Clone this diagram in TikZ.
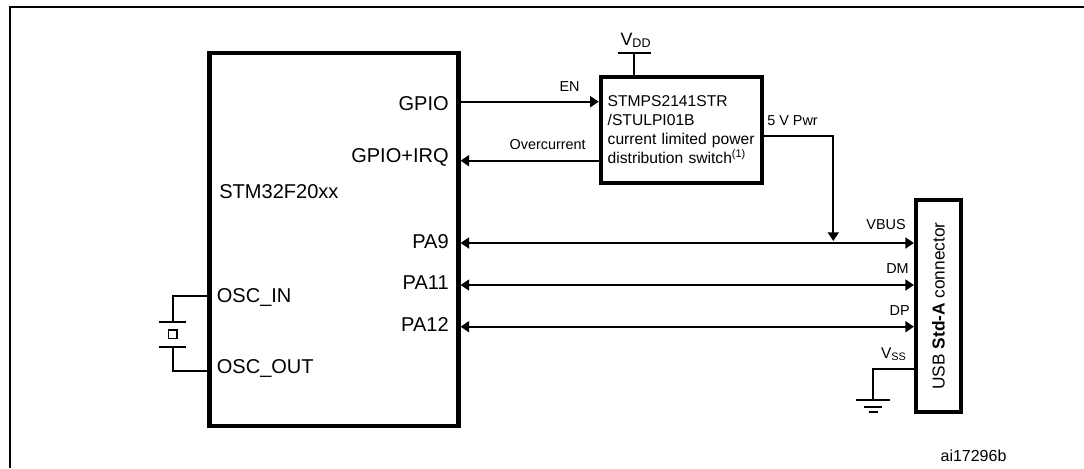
\documentclass[tikz,border=0pt]{standalone}
\usepackage{amsmath}
\usepackage{fontspec}
\setmainfont{Liberation Sans}
\usetikzlibrary{arrows.meta}
\newcommand{\bigfs}{\fontsize{11.4}{13}\selectfont}
\newcommand{\midfs}{\fontsize{8.9}{10.8}\selectfont}
\newcommand{\smallfs}{\fontsize{8.2}{10}\selectfont}

\begin{document}
\begin{tikzpicture}[
      x=0.02cm, y=-0.02cm,
      frameline/.style={line width=1.15pt},
      box/.style={draw, line width=2.5pt, outer sep=0pt, inner sep=0pt},
      wire/.style={line width=1pt},
      arrow/.style={-{Triangle[length=4.8pt,width=6.2pt]}, wire, shorten >=1.2pt},
      bothways/.style={{Triangle[length=4.8pt,width=6.2pt]}-{Triangle[length=4.8pt,width=6.2pt]}, wire, shorten >=1.2pt, shorten <=1.2pt},
      pin/.style={inner sep=0pt, font=\bigfs},
      sig/.style={inner sep=0pt, font=\smallfs}
    ]
      \useasboundingbox (0,0) rectangle (1084,468);
      \draw[frameline] (1084,7) -- (10,7) -- (10,468);

      % blocks
      \node[box, minimum width=4.98cm, minimum height=7.46cm] (mcu) at (334,239.5) {};
      \node[box, minimum width=3.23cm, minimum height=2.12cm, text width=84pt, align=left, font=\midfs] (pwrswitch) at (681.5,130)
        {STMPS2141STR\\/STULPI01B\\current limited power\\distribution switch$^{\text{(1)}}$};
      \node[box, minimum width=0.9cm, minimum height=4.24cm, font=\fontsize{9.85}{12}\selectfont] (usb) at (938.5,306)
        {\rotatebox{90}{USB \textbf{Std-A} connector}};

      % pins of the MCU
      \node[pin, anchor=base west] (partname) at (219,198) {STM32F20xx};
      \node[pin, anchor=base east] (gpio) at (449,110) {GPIO};
      \node[pin, anchor=base east] (gpioirq) at (449,162) {GPIO+IRQ};
      \node[pin, anchor=base east] (pa9) at (449,248) {PA9};
      \node[pin, anchor=base east] (pa11) at (449,289) {PA11};
      \node[pin, anchor=base east] (pa12) at (449,331) {PA12};
      \node[pin, anchor=base west] (oscin) at (216.5,302) {OSC\_IN};
      \node[pin, anchor=base west] (oscout) at (216.5,373) {OSC\_OUT};

      % signal names
      \node[sig, anchor=base] (en) at (569.5,91) {EN};
      \node[sig, anchor=base east] (ovc) at (586,149) {Overcurrent};
      \node[sig, anchor=base west] (pwr) at (767,125) {5 V Pwr};
      \node[sig, anchor=base east] (vbus) at (906,229) {VBUS};
      \node[sig, anchor=base east] (dm) at (909,273) {DM};
      \node[sig, anchor=base east] (dp) at (910,315) {DP};
      \node[pin, anchor=base east, font=\fontsize{8.8}{10}\selectfont] (vss) at (907,358) {V$_{\text{SS}}$};
      \node[pin, anchor=base, font=\fontsize{10.2}{12}\selectfont] (vdd) at (636,45) {V$_{\text{DD}}$};
      \node[sig, anchor=base, font=\fontsize{9.1}{11}\selectfont] (ref) at (973.5,461) {ai17296b};

      % free ends
      \coordinate (vddbar) at (634,52.7);
      \coordinate (gpioy) at (0,101.7);
      \coordinate (irqy) at (0,160.7);
      \coordinate (pwry) at (0,135.7);
      \coordinate (tap) at (833.3,243);
      \coordinate (dmy) at (0,285);
      \coordinate (dpy) at (0,326.7);
      \coordinate (gndtop) at (873,400);
      \coordinate (vssy) at (0,369);

      % connectors
      \draw[wire] ([xshift=-0.33cm]vddbar) -- ([xshift=0.33cm]vddbar);
      \draw[wire] (vddbar) -- (vddbar |- pwrswitch.north);
      \draw[arrow] (mcu.east |- gpioy) -- (pwrswitch.west |- gpioy);
      \draw[arrow] (pwrswitch.west |- irqy) -- (mcu.east |- irqy);
      \draw[arrow] (pwrswitch.east |- pwry) -| (tap);
      \draw[bothways] (mcu.east |- tap) -- (usb.west |- tap);
      \draw[bothways] (mcu.east |- dmy) -- (usb.west |- dmy);
      \draw[bothways] (mcu.east |- dpy) -- (usb.west |- dpy);
      \draw[wire] (usb.west |- vssy) -| (gndtop);

      % ground
      \draw[wire] ([xshift=-0.34cm]gndtop) -- ([xshift=0.34cm]gndtop);
      \draw[wire] ([xshift=-0.18cm,yshift=-0.134cm]gndtop) -- ([xshift=0.18cm,yshift=-0.134cm]gndtop);
      \draw[wire] ([xshift=-0.09cm,yshift=-0.234cm]gndtop) -- ([xshift=0.09cm,yshift=-0.234cm]gndtop);

      % crystal
      \node[draw, wire, minimum size=0.17cm, inner sep=0pt, outer sep=0pt] (xtal) at (172.7,334.2) {};
      \coordinate (plateup) at (172.7,321.7);
      \coordinate (platedown) at (172.7,346.7);
      \draw[wire] ([xshift=-0.27cm]plateup) -- ([xshift=0.27cm]plateup);
      \draw[wire] ([xshift=-0.27cm]platedown) -- ([xshift=0.27cm]platedown);
      \draw[wire] (mcu.west |- 0,295.7) -| (plateup);
      \draw[wire] (mcu.west |- 0,370.7) -| (platedown);
    \end{tikzpicture}
\end{document}
